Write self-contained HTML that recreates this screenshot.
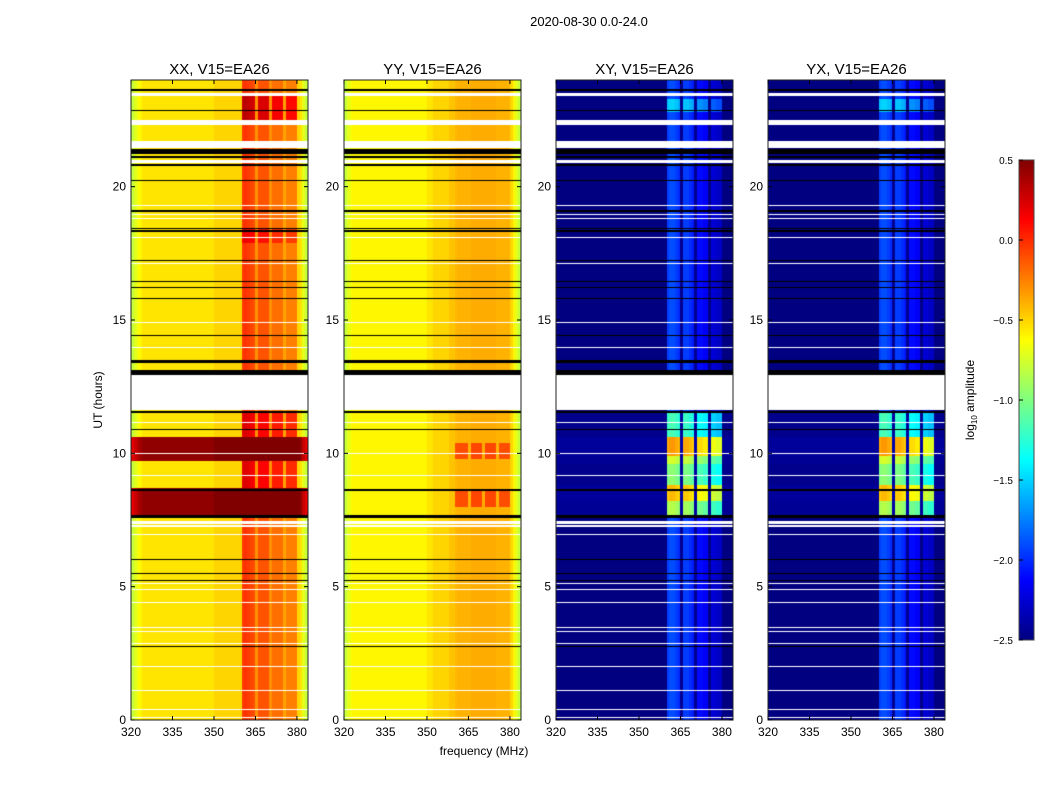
<!DOCTYPE html>
<html><head><meta charset="utf-8">
<style>
body{margin:0;background:#fff;width:1050px;height:800px;overflow:hidden;position:relative;font-family:"Liberation Sans","DejaVu Sans",sans-serif}
canvas{position:absolute;left:0;top:0}
svg{position:absolute;left:0;top:0}
</style></head>
<body>
<canvas id="cv" width="1050" height="800"></canvas>
<svg id="ov" width="1050" height="800"></svg>
<script>
// ---- data ----
const panelTitles = ["XX, V15=EA26","YY, V15=EA26","XY, V15=EA26","YX, V15=EA26"];
// 1 MHz channels, 320..384
const bandMask = [0,0,0,0,0,0,0,0,0,0, 0,0,0,0,0,0,0,0,0,0, 0,0,0,0,0,0,0,0,0,0, 0,0,0,0,0,0,0,0,0,0, 1,1,1,1,1,0,1,1,1,1, 0,1,1,1,1,0,1,1,1,1, 0,0,0,0];
const xxProfile = [-0.8,-0.72,-0.65,-0.6,-0.55,-0.55,-0.55,-0.55,-0.55,-0.55, -0.55,-0.55,-0.55,-0.55,-0.55,-0.55,-0.55,-0.55,-0.55,-0.55, -0.55,-0.55,-0.55,-0.55,-0.55,-0.55,-0.55,-0.55,-0.55,-0.55, -0.5,-0.5,-0.5,-0.5,-0.5,-0.5,-0.5,-0.5,-0.5,-0.5, -0.05,-0.02,-0.05,-0.08,-0.1,-0.3,-0.12,-0.12,-0.12,-0.12, -0.3,-0.2,-0.2,-0.2,-0.2,-0.35,-0.25,-0.25,-0.25,-0.25, -0.5,-0.55,-0.7,-0.8];
const yyProfile = [-0.8,-0.7,-0.65,-0.6,-0.6,-0.6,-0.6,-0.6,-0.6,-0.6, -0.6,-0.6,-0.6,-0.6,-0.6,-0.6,-0.6,-0.6,-0.6,-0.6, -0.6,-0.6,-0.6,-0.6,-0.6,-0.6,-0.6,-0.6,-0.6,-0.6, -0.55,-0.55,-0.5,-0.5,-0.5,-0.5,-0.5,-0.5,-0.45,-0.45, -0.42,-0.4,-0.4,-0.4,-0.4,-0.4,-0.38,-0.38,-0.38,-0.38, -0.38,-0.38,-0.38,-0.38,-0.38,-0.4,-0.4,-0.4,-0.4,-0.4, -0.5,-0.6,-0.7,-0.8];
const xyProfile = [-2.5,-2.5,-2.5,-2.5,-2.5,-2.5,-2.5,-2.5,-2.5,-2.5, -2.5,-2.5,-2.5,-2.5,-2.5,-2.5,-2.5,-2.5,-2.5,-2.5, -2.5,-2.5,-2.5,-2.5,-2.5,-2.5,-2.5,-2.5,-2.5,-2.5, -2.5,-2.5,-2.5,-2.5,-2.5,-2.5,-2.5,-2.5,-2.5,-2.5, -1.95,-1.9,-1.9,-1.95,-2.0,-2.45,-1.95,-1.95,-2.0,-2.05, -2.45,-2.1,-2.1,-2.15,-2.15,-2.48,-2.25,-2.25,-2.3,-2.3, -2.5,-2.5,-2.5,-2.5];
const yxProfile = [-2.5,-2.5,-2.5,-2.5,-2.5,-2.5,-2.5,-2.5,-2.5,-2.5, -2.5,-2.5,-2.5,-2.5,-2.5,-2.5,-2.5,-2.5,-2.5,-2.5, -2.5,-2.5,-2.5,-2.5,-2.5,-2.5,-2.5,-2.5,-2.5,-2.5, -2.5,-2.5,-2.5,-2.5,-2.5,-2.5,-2.5,-2.5,-2.5,-2.5, -1.95,-1.9,-1.9,-1.95,-2.0,-2.45,-1.95,-1.95,-2.0,-2.05, -2.45,-2.1,-2.1,-2.15,-2.15,-2.48,-2.25,-2.25,-2.3,-2.3, -2.5,-2.5,-2.5,-2.5];
// segments: [t0, t1, baseAdd, bandAdd]
const xxSegments = [[7.6,8.7,1.0,0.5],[9.7,10.6,1.0,0.5],[8.7,9.7,0,0.25],[10.6,11.5,0,0.25],[22.5,23.4,0,0.35],[17.9,18.4,0,0.2]];
const yySegments = [[8.0,8.6,0,0.3],[9.8,10.4,0,0.3]];
const xySegments = [[7.6,8.2,0.06,1.0],[8.2,8.8,0.08,1.4],[8.8,9.6,0.04,0.9],[9.6,9.9,0.06,1.1],[9.9,10.6,0.08,1.5],[10.6,11.5,0.04,0.7],[22.8,23.3,0,0.4]];
const yxSegments = [[7.6,8.2,0.06,1.0],[8.2,8.8,0.08,1.4],[8.8,9.6,0.04,0.9],[9.6,9.9,0.06,1.1],[9.9,10.6,0.08,1.5],[10.6,11.5,0.04,0.7],[22.8,23.3,0,0.4]];
const whiteGaps = [[11.65,12.95],[23.38,23.5],[22.3,22.5],[21.45,21.7],[20.9,21.0],[7.22,7.3],[7.35,7.45],[19.3,19.33],[18.95,18.98],[18.8,18.83],[18.1,18.13],[17.1,17.13],[14.9,14.93],[13.95,13.98],[6.93,6.96],[5.08,5.13],[4.88,4.91],[4.4,4.43],[3.45,3.5],[3.3,3.35],[2.85,2.88],[2.0,2.03],[1.1,1.13],[0.4,0.43],[0.08,0.11],[10.0,10.03],[9.17,9.2],[11.15,11.18]];
const blackLines = [[23.62,23.68],[22.82,22.87],[21.25,21.42],[21.08,21.14],[20.78,20.85],[20.2,20.25],[19.05,19.13],[18.3,18.36],[18.4,18.45],[17.2,17.25],[16.42,16.47],[16.2,16.24],[15.78,15.82],[14.4,14.45],[13.4,13.5],[12.95,13.12],[11.5,11.58],[10.85,10.9],[8.6,8.66],[7.58,7.68],[6.0,6.05],[5.48,5.53],[5.2,5.25],[2.72,2.77]];
const xTicks = [320,335,350,365,380];
const yTicks = [0,5,10,15,20];
const cbarTicks = [0.5,0.0,-0.5,-1.0,-1.5,-2.0,-2.5];
const cbarLabels = ["0.5","0.0","\u22120.5","\u22121.0","\u22121.5","\u22122.0","\u22122.5"];

const profiles=[xxProfile,yyProfile,xyProfile,yxProfile];
const segments=[xxSegments,yySegments,xySegments,yxSegments];
// ---- layout ----
const lefts=[131,344,556,768], PW=177, TOP=80, BOT=720;
const xScale=(p,f)=>lefts[p]+(f-320)/64*PW;
const yScale=h=>BOT-h/24*(BOT-TOP);
const VMIN=-2.5,VMAX=0.5;
function jet(v){
  let t=(v-VMIN)/(VMAX-VMIN); t=Math.max(0,Math.min(1,t));
  const c=x=>Math.max(0,Math.min(1,x));
  const r=c(1.5-Math.abs(4*t-3)), g=c(1.5-Math.abs(4*t-2)), b=c(1.5-Math.abs(4*t-1));
  return `rgb(${Math.round(r*255)},${Math.round(g*255)},${Math.round(b*255)})`;
}
const ctx=document.getElementById('cv').getContext('2d');
const dt=0.05;
for(let p=0;p<4;p++){
  const prof=profiles[p];
  for(let i=0;i<prof.length;i++){
    const x0=Math.round(xScale(p,320+i)), x1=Math.round(xScale(p,321+i));
    for(let k=0;k<480;k++){
      const t=k*dt;
      let v=prof[i];
      const tm=t+dt/2;
      for(const s of segments[p]) if(tm>=s[0]&&tm<s[1]) v+=s[2]+s[3]*bandMask[i];
      ctx.fillStyle=jet(v);
      const y0=Math.round(yScale(t+dt)), y1=Math.round(yScale(t));
      ctx.fillRect(x0,y0,x1-x0,y1-y0);
    }
  }
  ctx.fillStyle='#fff';
  for(const g of whiteGaps){const y0=yScale(g[1]),y1=yScale(g[0]);ctx.fillRect(lefts[p],Math.round(y0),PW,Math.max(1,Math.round(y1-y0)));}
  ctx.fillStyle='#000';
  for(const g of blackLines){const y0=yScale(g[1]),y1=yScale(g[0]);ctx.fillRect(lefts[p],Math.round(y0),PW,Math.max(1,Math.round(y1-y0)));}
}
// colorbar
for(let k=0;k<240;k++){
  const v=VMIN+(k+0.5)/240*(VMAX-VMIN);
  ctx.fillStyle=jet(v);
  ctx.fillRect(1019,640-(k+1)*2,15,2);
}
// ---- overlay ----
const NS='http://www.w3.org/2000/svg', ov=document.getElementById('ov');
function el(tag,attrs,txt){const e=document.createElementNS(NS,tag);for(const k in attrs)e.setAttribute(k,attrs[k]);if(txt!==undefined)e.textContent=txt;ov.appendChild(e);return e;}
let e=el('text',{x:589,y:26,'font-size':13,'text-anchor':'middle',fill:'#000'},'2020-08-30 0.0-24.0');


for(let p=0;p<4;p++){
  e=el('text',{x:lefts[p]+PW/2,y:74,'font-size':15,'text-anchor':'middle'},panelTitles[p]);
  
  
  e=el('rect',{x:lefts[p],y:TOP,width:PW,height:BOT-TOP,fill:'none',stroke:'#222','stroke-width':1});
  
  
  for(const f of xTicks){
    const x=xScale(p,f);
    e=el('line',{x1:x,x2:x,y1:BOT,y2:BOT-4,stroke:'#000'});
    
    
    e=el('line',{x1:x,x2:x,y1:TOP,y2:TOP+4,stroke:'#000'});
    
    
    e=el('text',{x:x,y:736,'font-size':12,'text-anchor':'middle'},String(f));
    
    
  }
  for(const h of yTicks){
    const y=yScale(h);
    e=el('line',{x1:lefts[p],x2:lefts[p]+4,y1:y,y2:y,stroke:'#000'});
    
    
    e=el('line',{x1:lefts[p]+PW,x2:lefts[p]+PW-4,y1:y,y2:y,stroke:'#000'});
    
    
    e=el('text',{x:lefts[p]-5,y:y+4,'font-size':12,'text-anchor':'end'},String(h));
    
    
  }
}
e=el('text',{x:484,y:755,'font-size':12,'text-anchor':'middle'},'frequency (MHz)');


e=el('text',{x:0,y:0,'font-size':12,'text-anchor':'middle',transform:'translate(102,400) rotate(-90)'},'UT (hours)');


e=el('rect',{x:1019,y:160,width:15,height:480,fill:'none',stroke:'#444'});


cbarTicks.forEach((v,i)=>{
  const y=640-(v-VMIN)/(VMAX-VMIN)*480;
  e=el('line',{x1:1019,x2:1023,y1:y,y2:y,stroke:'#000'});
  
  
  e=el('text',{x:1013,y:y+4,'font-size':10,'text-anchor':'end'},cbarLabels[i]);
  
  
});
e=el('text',{x:0,y:0,'font-size':12,'text-anchor':'middle',transform:'translate(974,400) rotate(-90)'});


const t1=document.createElementNS(NS,'tspan');t1.textContent='log';e.appendChild(t1);
const t2=document.createElementNS(NS,'tspan');t2.setAttribute('font-size','8');t2.setAttribute('dy','3');t2.textContent='10';e.appendChild(t2);
const t3=document.createElementNS(NS,'tspan');t3.setAttribute('dy','-3');t3.textContent=' amplitude';e.appendChild(t3);
</script>
</body></html>
